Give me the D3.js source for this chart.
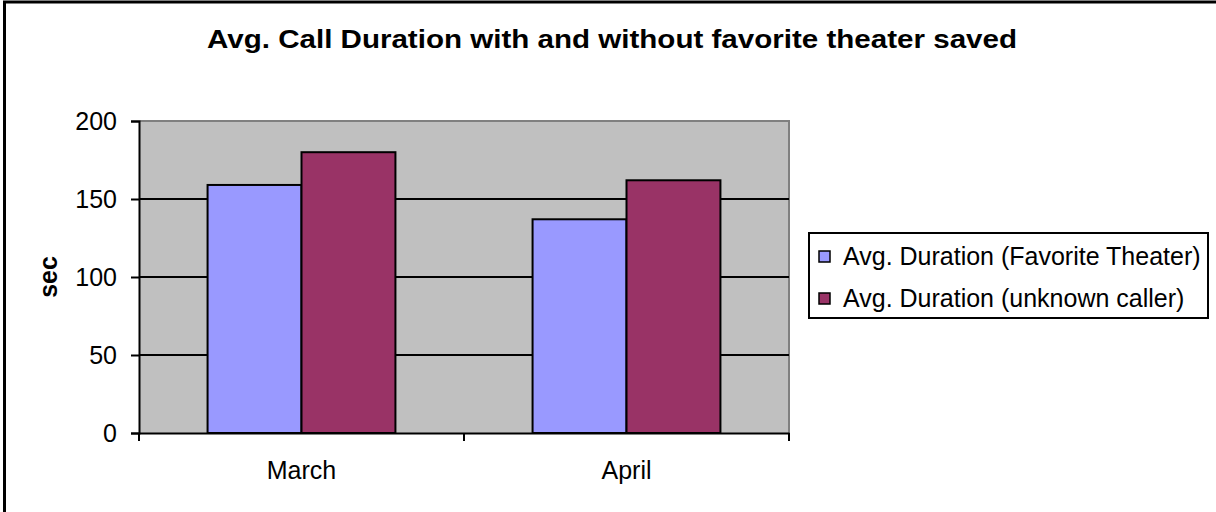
<!DOCTYPE html>
<html>
<head>
<meta charset="utf-8">
<script src="https://cdn.jsdelivr.net/npm/d3@7"></script>
<style>
  html, body { margin: 0; padding: 0; background: #fff; }
  svg { display: block; }
  text { font-family: "Liberation Sans", Arial, sans-serif; fill: #000; }
</style>
</head>
<body>
<svg id="chart" width="1216" height="512"></svg>
<script>
// Average call duration (seconds) per month
const categories = ["March", "April"];
const seriesNames = ["Avg. Duration (Favorite Theater)", "Avg. Duration (unknown caller)"];
const favoriteTheater = [159, 137];
const unknownCaller = [180, 162];
const yTicks = [0, 50, 100, 150, 200];
const seriesColors = ["#9999FF", "#993366"];

const seriesValues = [favoriteTheater, unknownCaller];
const rows = categories.map((c, i) => ({
  category: c,
  values: seriesNames.map((s, j) => ({ series: s, value: seriesValues[j][i], color: seriesColors[j] }))
}));

const svg = d3.select("#chart");
const plot = { left: 139, right: 789, top: 121, bottom: 433 };
const fontSize = "25px";

// Outer chart frame (runs off the right and bottom edges)
svg.append("rect")
  .attr("x", 4.5).attr("y", 2)
  .attr("width", 1400).attr("height", 700)
  .attr("fill", "none").attr("stroke", "#000").attr("stroke-width", 3);

// Title
svg.append("text")
  .attr("x", 612).attr("y", 48)
  .attr("text-anchor", "middle")
  .attr("textLength", 810).attr("lengthAdjust", "spacingAndGlyphs")
  .style("font-weight", "bold").style("font-size", "26px")
  .text("Avg. Call Duration with and without favorite theater saved");

const y = d3.scaleLinear().domain([0, 200]).range([plot.bottom, plot.top]);
const x0 = d3.scaleBand().domain(categories).range([plot.left, plot.right]).padding(0);
const gapRatio = 1.46;
const barW = x0.bandwidth() / (seriesNames.length + gapRatio);
const inset = barW * gapRatio / 2;
const x1 = d3.scaleBand().domain(seriesNames).range([inset, x0.bandwidth() - inset]).padding(0);

// Plot background
svg.append("rect")
  .attr("x", plot.left).attr("y", plot.top)
  .attr("width", plot.right - plot.left).attr("height", plot.bottom - plot.top)
  .attr("fill", "#C0C0C0");

// Plot area border (top and right) in grey
svg.append("path")
  .attr("d", `M${plot.left},${plot.top}H${plot.right}V${plot.bottom}`)
  .attr("fill", "none").attr("stroke", "#808080").attr("stroke-width", 2);

// Horizontal gridlines
svg.append("g").selectAll("line")
  .data(yTicks.filter(t => t > 0 && t < 200))
  .join("line")
  .attr("x1", plot.left).attr("x2", plot.right)
  .attr("y1", d => y(d)).attr("y2", d => y(d))
  .attr("stroke", "#000").attr("stroke-width", 2);

// Bars
const groups = svg.append("g").selectAll("g")
  .data(rows).join("g")
  .attr("transform", d => `translate(${x0(d.category)},0)`);
groups.selectAll("rect")
  .data(d => d.values).join("rect")
  .attr("x", d => x1(d.series))
  .attr("width", x1.bandwidth())
  .attr("y", d => y(d.value))
  .attr("height", d => y(0) - y(d.value))
  .attr("fill", d => d.color)
  .attr("stroke", "#000").attr("stroke-width", 2);

// Y axis
const yAxis = svg.append("g")
  .attr("transform", `translate(${plot.left},0)`)
  .call(d3.axisLeft(y).tickValues(yTicks).tickSize(8).tickPadding(14));
yAxis.select(".domain").attr("stroke", "#000").attr("stroke-width", 2);
yAxis.selectAll(".tick line").attr("stroke", "#000").attr("stroke-width", 2);
yAxis.selectAll(".tick text")
  .style("font-size", fontSize).style("font-family", "'Liberation Sans', Arial, sans-serif")
  .attr("fill", "#000");

// X axis
const xAxis = svg.append("g")
  .attr("transform", `translate(0,${plot.bottom})`)
  .call(d3.axisBottom(x0).tickSize(0).tickPadding(28));
xAxis.select(".domain").attr("stroke", "#000").attr("stroke-width", 2);
xAxis.selectAll(".tick text")
  .style("font-size", fontSize).style("font-family", "'Liberation Sans', Arial, sans-serif")
  .attr("fill", "#000");
// Category separator ticks
svg.append("g").selectAll("line")
  .data(categories.concat([null]))
  .join("line")
  .attr("x1", (d, i) => i < categories.length ? x0(d) : plot.right)
  .attr("x2", (d, i) => i < categories.length ? x0(d) : plot.right)
  .attr("y1", plot.bottom).attr("y2", plot.bottom + 8)
  .attr("stroke", "#000").attr("stroke-width", 2);

// Y axis title
svg.append("text")
  .attr("transform", `translate(57,${(plot.top + plot.bottom) / 2}) rotate(-90)`)
  .attr("text-anchor", "middle")
  .style("font-weight", "bold").style("font-size", fontSize)
  .text("sec");

// Legend
const legend = svg.append("g").attr("transform", "translate(809,233)");
legend.append("rect")
  .attr("width", 399).attr("height", 85)
  .attr("fill", "#fff").attr("stroke", "#000").attr("stroke-width", 2);
const items = legend.selectAll("g.item")
  .data(seriesNames).join("g")
  .attr("class", "item")
  .attr("transform", (d, i) => `translate(10,${18 + i * 42})`);
items.append("rect")
  .attr("width", 11).attr("height", 11)
  .attr("fill", (d, i) => seriesColors[i])
  .attr("stroke", "#000").attr("stroke-width", 1.5);
items.append("text")
  .attr("x", 24).attr("y", 14)
  .style("font-size", fontSize)
  .text(d => d);
</script>
</body>
</html>
